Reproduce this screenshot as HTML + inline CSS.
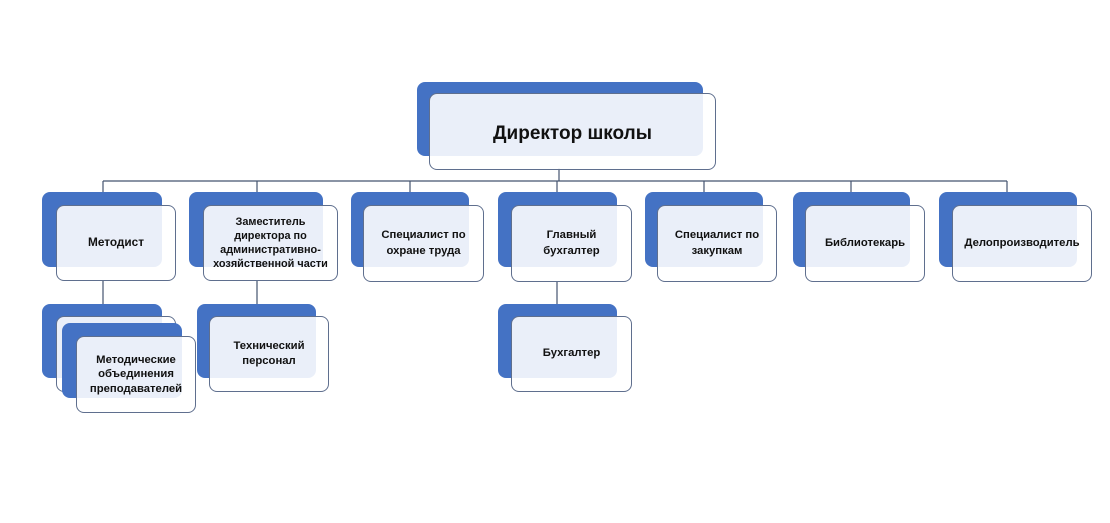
<!DOCTYPE html>
<html><head><meta charset="utf-8"><style>
html,body{margin:0;padding:0;background:#fff;}
body{width:1110px;height:523px;position:relative;overflow:hidden;font-family:"Liberation Sans","DejaVu Sans",sans-serif;}
.b{position:absolute;background:#4472c4;border-radius:8px;}
.f{position:absolute;background:rgba(255,255,255,0.89);border:1px solid #5f6f8e;border-radius:8px;box-sizing:border-box;display:flex;align-items:center;justify-content:center;text-align:center;font-weight:bold;font-size:11.3px;line-height:15.5px;color:#111;}
.t{line-height:14.2px;}
svg{position:absolute;left:0;top:0;}
</style></head><body>
<svg width="1110" height="523">
<g stroke="#44546f" stroke-width="1.2" fill="none">
<line x1="103" y1="181" x2="1007" y2="181"/>
<line x1="559" y1="168" x2="559" y2="181"/>
<line x1="103" y1="181" x2="103" y2="193"/>
<line x1="257" y1="181" x2="257" y2="193"/>
<line x1="410" y1="181" x2="410" y2="193"/>
<line x1="557" y1="181" x2="557" y2="193"/>
<line x1="704" y1="181" x2="704" y2="193"/>
<line x1="851" y1="181" x2="851" y2="193"/>
<line x1="1007" y1="181" x2="1007" y2="193"/>
<line x1="103" y1="280" x2="103" y2="305"/>
<line x1="257" y1="280" x2="257" y2="305"/>
<line x1="557" y1="281" x2="557" y2="305"/>
</g>
</svg>

<!-- Director -->
<div class="b" style="left:417px;top:82px;width:286px;height:74px;"></div>
<div class="f" style="left:429px;top:93px;width:287px;height:77px;font-size:19px;line-height:22px;padding-top:4px;">Директор школы</div>

<!-- Level 2 -->
<div class="b" style="left:42px;top:192px;width:120px;height:75px;"></div>
<div class="f" style="left:56px;top:205px;width:120px;height:76px;font-size:11.8px;">Методист</div>

<div class="b" style="left:189px;top:192px;width:134px;height:75px;"></div>
<div class="f t" style="left:203px;top:205px;width:135px;height:76px;font-size:10.9px;">Заместитель<br>директора по<br>административно-<br>хозяйственной части</div>

<div class="b" style="left:351px;top:192px;width:118px;height:75px;"></div>
<div class="f" style="left:363px;top:205px;width:121px;height:77px;">Специалист по<br>охране труда</div>

<div class="b" style="left:498px;top:192px;width:119px;height:75px;"></div>
<div class="f" style="left:511px;top:205px;width:121px;height:77px;">Главный<br>бухгалтер</div>

<div class="b" style="left:645px;top:192px;width:118px;height:75px;"></div>
<div class="f" style="left:657px;top:205px;width:120px;height:77px;">Специалист по<br>закупкам</div>

<div class="b" style="left:793px;top:192px;width:117px;height:75px;"></div>
<div class="f" style="left:805px;top:205px;width:120px;height:77px;">Библиотекарь</div>

<div class="b" style="left:939px;top:192px;width:138px;height:75px;"></div>
<div class="f" style="left:952px;top:205px;width:140px;height:77px;">Делопроизводитель</div>

<!-- Level 3 -->
<div class="b" style="left:42px;top:304px;width:120px;height:74px;"></div>
<div class="f" style="left:56px;top:316px;width:120px;height:76px;"></div>
<div class="b" style="left:62px;top:323px;width:120px;height:75px;"></div>
<div class="f t" style="left:76px;top:336px;width:120px;height:77px;">Методические<br>объединения<br>преподавателей</div>

<div class="b" style="left:197px;top:304px;width:119px;height:74px;"></div>
<div class="f" style="left:209px;top:316px;width:120px;height:76px;">Технический<br>персонал</div>

<div class="b" style="left:498px;top:304px;width:119px;height:74px;"></div>
<div class="f" style="left:511px;top:316px;width:121px;height:76px;">Бухгалтер</div>
</body></html>
